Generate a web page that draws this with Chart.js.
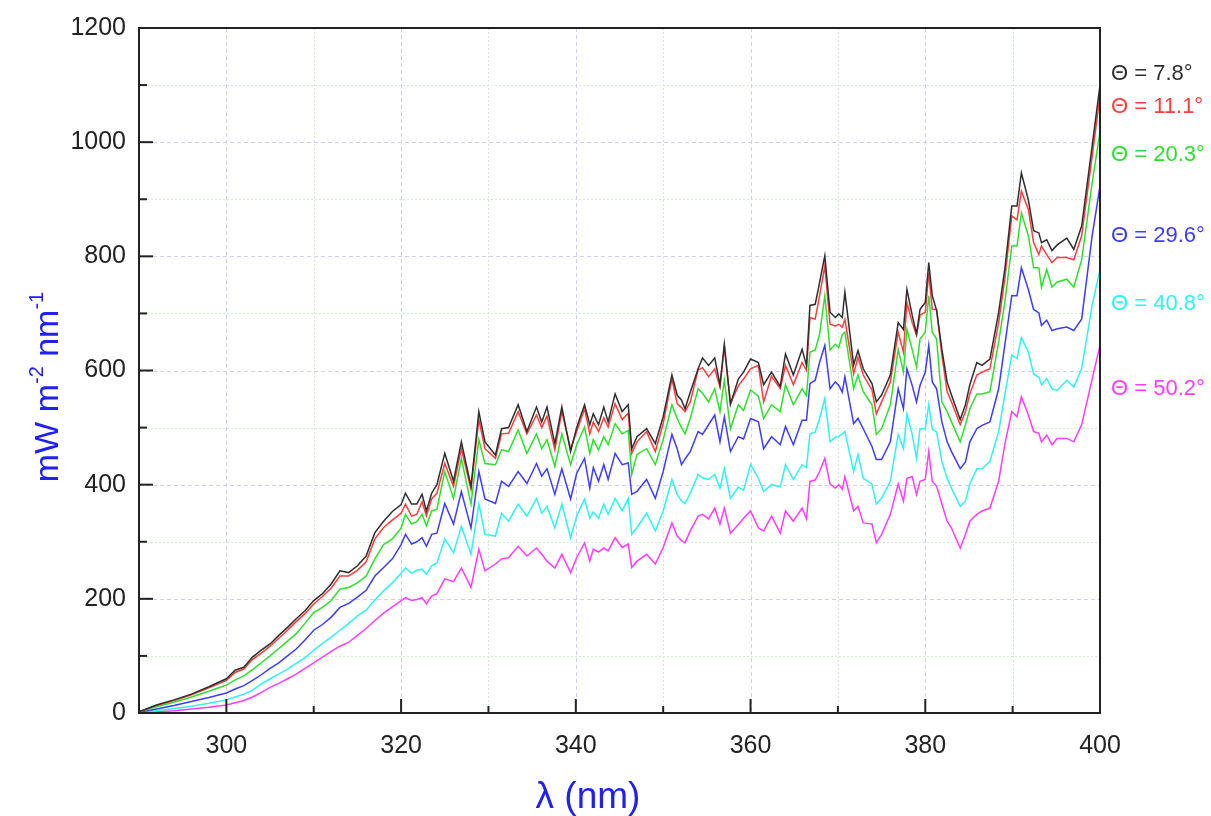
<!DOCTYPE html>
<html>
<head>
<meta charset="utf-8">
<title>UV spectra</title>
<script src="https://cdn.jsdelivr.net/npm/chart.js@4/dist/chart.umd.min.js"></script>
<style>
  html, body { margin: 0; padding: 0; background: #fff; }
  canvas { display: block; }
</style>
</head>
<body>
<canvas id="grafico" width="1211" height="816"></canvas>
<script>
(function(){

    'use strict'

    // wavelength (nm), shared by every series
    var wavelength = [
        290,292,294,296,298,300,301,302,303,304,305,306,307,308,309,310,311,312,313,314,315,316,317,318,319,320,
        320.5,321.2,321.8,322.4,322.9,323.5,324.1,325.0,326.0,326.9,328.0,328.9,329.6,330.8,331.5,332.3,333.4,334.4,335.5,336.1,
        336.7,337.6,338.4,339.4,340.1,341.0,341.6,342.0,342.6,343.2,343.7,344.5,
        345.3,346.0,346.4,347.0,348.1,349.1,350.0,351.0,351.6,352.1,352.5,353.1,354.0,354.5,355.2,355.9,356.5,357.0,357.7,358.6,
        359.2,360.0,360.9,361.5,362.4,363.4,364.0,364.9,365.9,366.4,366.8,367.4,367.9,368.5,369.1,369.7,370.1,370.5,
        370.8,371.8,372.3,372.9,373.9,374.4,375.0,376.0,376.9,377.5,377.9,378.5,379.0,379.4,380.0,380.4,380.8,381.3,381.9,382.5,
        383.0,384.0,384.6,385.1,385.9,386.5,387.4,388.4,389.1,389.9,390.5,391.0,391.8,392.4,393.0,393.3,393.9,394.5,395.1,396.2,
        397.0,397.9,399.1,400
    ];

    // irradiance, mW m-2 nm-1
    var theta78 = [
        2,14,23,33,46,60,75,80,98,110,121,136,150,165,179,197,209,226,249,246,258,275,316,336,353,365,
        385,366,366,383,354,385,400,455,406,475,397,528,475,452,498,500,540,493,536,510,536,472,536,458,500,540,505,524,505,536,510,559,
        528,540,463,484,498,472,519,592,557,548,533,562,603,622,609,622,575,646,541,585,597,620,614,575,597,572,629,592,637,609,714,716,754,801,702,693,699,693,
        737,610,635,603,577,545,557,592,684,672,742,697,664,707,719,789,731,705,637,580,557,514,540,575,614,609,620,702,777,888,888,946,899,845,841,824,829,810,820,832,812,853,993,1100
    ];
    var theta111 = [
        2,13,22,32,44,57,71,77,94,105,117,131,145,160,174,191,204,219,240,240,250,265,305,325,338,350,
        366,345,348,370,345,375,385,437,397,463,392,514,463,446,489,490,528,489,522,500,520,461,528,463,493,533,489,510,493,517,501,542,
        514,525,455,475,493,458,507,585,542,535,528,545,601,605,589,603,571,641,542,573,585,603,609,545,590,568,609,575,614,600,693,690,731,783,681,678,681,676,
        690,594,623,592,566,524,545,580,667,632,719,684,662,697,702,771,707,707,627,563,545,505,528,559,592,597,603,684,760,871,864,914,882,824,803,818,803,789,798,798,794,836,975,1082
    ];
    var theta203 = [
        2,11,19,28,38,49,58,65,76,88,100,113,126,139,157,176,185,197,217,220,228,240,270,295,305,324,
        348,331,335,348,328,354,357,423,376,446,366,479,437,435,461,458,496,455,489,463,479,432,489,435,470,501,455,479,461,484,470,507,
        489,495,418,453,463,435,479,540,516,500,489,516,568,560,545,568,528,583,498,540,530,566,555,516,540,528,575,540,568,556,632,636,663,731,636,646,640,663,
        667,568,592,563,540,488,498,540,637,597,672,637,606,655,667,731,667,655,545,528,510,475,505,533,559,559,563,650,719,818,818,876,836,780,780,746,777,746,755,760,746,794,928,1019
    ];
    var theta296 = [
        1,7,13,20,27,35,42,48,57,67,78,88,100,112,128,145,155,168,185,192,203,215,240,255,270,295,
        313,296,300,307,292,313,315,367,331,388,324,423,375,367,406,397,423,402,437,415,428,383,428,375,420,446,394,430,406,435,409,455,
        435,438,383,388,409,376,423,488,463,435,445,458,493,488,505,522,475,519,458,484,480,516,510,463,484,470,502,470,513,513,577,583,614,644,568,580,574,562,
        589,507,516,498,467,444,444,475,568,533,603,574,545,574,597,644,580,568,510,475,458,428,440,475,498,504,510,568,644,731,731,780,742,707,701,679,688,670,673,676,670,690,836,923
    ];
    var theta408 = [
        1,4,8,12,17,23,28,33,40,51,60,68,77,87,97,110,122,133,145,157,170,180,198,214,228,245,
        254,245,250,252,243,258,263,305,281,327,278,366,313,310,350,336,366,345,376,350,362,324,366,307,345,375,341,352,341,366,348,376,
        354,376,313,325,350,319,354,409,383,372,367,385,418,412,409,418,394,428,376,396,390,435,411,388,400,396,435,409,435,430,489,492,516,551,475,483,485,489,
        493,423,453,411,401,366,376,406,488,463,524,488,446,498,498,540,498,492,441,411,394,362,371,401,428,428,441,493,557,627,621,658,632,594,588,575,586,568,565,583,571,603,714,777
    ];
    var theta502 = [
        0,2,4,7,10,14,18,22,28,36,45,52,60,68,78,88,98,108,117,124,136,148,162,175,186,197,
        202,197,199,202,191,205,209,235,230,254,220,287,249,261,270,272,292,275,289,278,266,254,278,246,272,298,266,287,282,289,284,307,
        290,296,255,266,278,261,290,333,310,302,298,319,345,348,340,359,331,359,315,330,341,354,324,319,345,315,354,336,359,340,406,408,423,446,401,394,400,392,
        414,354,362,333,331,298,313,348,401,371,411,414,383,406,409,458,406,397,366,336,324,289,313,336,348,354,359,406,470,528,519,554,522,493,490,475,487,470,481,481,475,505,585,644
    ];

    var seriesNames  = ['\u0398 = 7.8\u00b0', '\u0398 = 11.1\u00b0', '\u0398 = 20.3\u00b0', '\u0398 = 29.6\u00b0', '\u0398 = 40.8\u00b0', '\u0398 = 50.2\u00b0'];
    var seriesValues = [theta78, theta111, theta203, theta296, theta408, theta502];
    // where each name sits, in axis units
    var labelLevels  = [1120, 1062, 977, 836, 716, 568];

    var xTicks = [300, 320, 340, 360, 380, 400];
    var yTicks = [0, 200, 400, 600, 800, 1000, 1200];

    var cores = ['#2e2e2e', '#ff3c3c', '#2ee02e', '#3c3cff', '#30f2f2', '#ff3cff'];
    var fonte = '"Liberation Sans", Arial, sans-serif';
    var azulTitulo = '#2020f0';

    var montarDatasets = function() {
        var lista = [];
        for (var s = 0; s < seriesValues.length; s++) {
            var pontos = [];
            for (var i = 0; i < wavelength.length; i++) {
                pontos.push({ x: wavelength[i], y: seriesValues[s][i] });
            }
            lista.push({
                label: seriesNames[s],
                data: pontos,
                borderColor: cores[s],
                backgroundColor: cores[s],
                borderWidth: 1.5,
                pointRadius: 0,
                tension: 0,
                fill: false
            });
        }
        return lista;
    };

    // grid, inner ticks, frame and texts
    var moldura = {
        id: 'moldura',
        beforeDatasetsDraw: function(chart) {
            var ctx = chart.ctx, area = chart.chartArea;
            var sx = chart.scales.x, sy = chart.scales.y;
            ctx.save();
            ctx.lineWidth = 1;
            for (var v = 100; v < 1200; v += 100) {
                var py = Math.round(sy.getPixelForValue(v)) + 0.5;
                var major = v % 200 === 0;
                ctx.strokeStyle = major ? '#cfcff6' : '#cdf0cd';
                ctx.setLineDash(major ? [4, 3] : [2, 2]);
                ctx.beginPath(); ctx.moveTo(area.left, py); ctx.lineTo(area.right, py); ctx.stroke();
            }
            for (var w = 300; w < 400; w += 10) {
                var px = Math.round(sx.getPixelForValue(w)) + 0.5;
                var maj = w % 20 === 0;
                ctx.strokeStyle = maj ? '#cfcff6' : '#cdf0cd';
                ctx.setLineDash(maj ? [4, 3] : [2, 2]);
                ctx.beginPath(); ctx.moveTo(px, area.top); ctx.lineTo(px, area.bottom); ctx.stroke();
            }
            ctx.restore();
        },
        afterDraw: function(chart) {
            var ctx = chart.ctx, area = chart.chartArea;
            var sx = chart.scales.x, sy = chart.scales.y;
            ctx.save();
            ctx.strokeStyle = '#222';
            ctx.lineWidth = 2;
            ctx.setLineDash([]);
            for (var v = 100; v < 1200; v += 100) {
                var py = sy.getPixelForValue(v);
                var len = v % 200 === 0 ? 14 : 8;
                ctx.beginPath(); ctx.moveTo(area.left, py); ctx.lineTo(area.left + len, py); ctx.stroke();
            }
            for (var w = 300; w < 400; w += 10) {
                var px = sx.getPixelForValue(w);
                var l = w % 20 === 0 ? 14 : 7;
                ctx.beginPath(); ctx.moveTo(px, area.bottom); ctx.lineTo(px, area.bottom - l); ctx.stroke();
            }
            ctx.strokeRect(area.left, area.top, area.right - area.left, area.bottom - area.top);

            // names of the series
            ctx.font = '22px ' + fonte;
            ctx.textAlign = 'left';
            ctx.textBaseline = 'middle';
            for (var i = 0; i < seriesNames.length; i++) {
                ctx.fillStyle = cores[i];
                ctx.fillText(seriesNames[i], area.right + 11, sy.getPixelForValue(labelLevels[i]));
            }

            // x title
            ctx.fillStyle = azulTitulo;
            ctx.font = '37px ' + fonte;
            ctx.textAlign = 'center';
            ctx.textBaseline = 'alphabetic';
            ctx.fillText('\u03bb (nm)', 588, 808);

            // y title with superscripts
            var partes = [['mW m', false], ['-2', true], [' nm', false], ['-1', true]];
            var total = 0, k;
            for (k = 0; k < partes.length; k++) {
                ctx.font = (partes[k][1] ? '20px ' : '34px ') + fonte;
                total += ctx.measureText(partes[k][0]).width;
            }
            ctx.translate(58, 387);
            ctx.rotate(-Math.PI / 2);
            ctx.textAlign = 'left';
            var pos = -total / 2;
            for (k = 0; k < partes.length; k++) {
                ctx.font = (partes[k][1] ? '20px ' : '34px ') + fonte;
                ctx.fillText(partes[k][0], pos, partes[k][1] ? -15 : 0);
                pos += ctx.measureText(partes[k][0]).width;
            }
            ctx.restore();
        }
    };

    var semSeparador = function(valor) { return String(valor); };

    var ctx = document.getElementById('grafico').getContext('2d');

    new Chart(ctx, {
        type: 'line',
        data: { datasets: montarDatasets() },
        plugins: [moldura],
        options: {
            responsive: false,
            animation: false,
            devicePixelRatio: 1,
            layout: { padding: { left: 0, right: 111, top: 21, bottom: 0 } },
            plugins: {
                legend: { display: false },
                tooltip: { enabled: false },
                title: { display: false }
            },
            scales: {
                x: {
                    type: 'linear',
                    min: 290,
                    max: 400,
                    afterBuildTicks: function(scale) {
                        scale.ticks = xTicks.map(function(v) { return { value: v }; });
                    },
                    afterFit: function(scale) { scale.height = 103; },
                    ticks: {
                        color: '#222',
                        padding: 18,
                        maxRotation: 0,
                        callback: semSeparador,
                        font: { family: fonte, size: 25 }
                    },
                    grid: { display: true, drawOnChartArea: false, drawTicks: false },
                    border: { display: false }
                },
                y: {
                    min: 0,
                    max: 1200,
                    afterBuildTicks: function(scale) {
                        scale.ticks = yTicks.map(function(v) { return { value: v }; });
                    },
                    afterFit: function(scale) { scale.width = 139; },
                    ticks: {
                        color: '#222',
                        padding: 13,
                        callback: semSeparador,
                        font: { family: fonte, size: 25 }
                    },
                    grid: { display: true, drawOnChartArea: false, drawTicks: false },
                    border: { display: false }
                }
            }
        }
    });

})();
</script>
</body>
</html>
